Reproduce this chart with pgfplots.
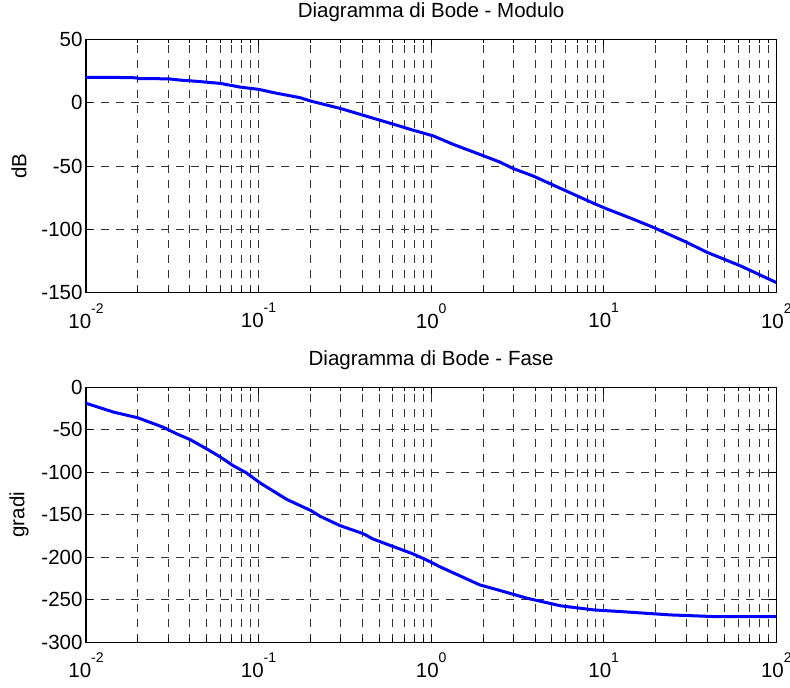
\documentclass[border=0pt]{standalone}
\usepackage{fontspec}
\setmainfont{Liberation Sans}
\usepackage{pgfplots}
\pgfplotsset{compat=1.18}

\newcommand{\dec}[1]{10\raisebox{15pt}{\fontsize{14}{14}\selectfont #1}}

\begin{document}
\begin{tikzpicture}

% Modulo
\begin{axis}[
    xmode=log,
    scale only axis,
    width=690.3pt,
    height=253.4pt,
    at={(86pt,395.3pt)}, anchor=south west,
    xmin=0.01, xmax=100,
    ymin=-150, ymax=50,
    xtick={0.01,0.1,1,10,100},
    xticklabels={\dec{-2},\dec{-1},\dec{0},\dec{1},\dec{2}},
    ytick={-150,-100,-50,0,50},
    yticklabels={-150,-100,-50,0,50},
    xticklabel style={yshift=-7pt},
    font=\fontsize{20.5}{24}\selectfont,
    tick label style={font=\fontsize{20.5}{24}\selectfont},
    grid=both,
    major grid style={dash pattern=on 8pt off 7pt, black!80, line width=0.9pt},
    minor grid style={dash pattern=on 8pt off 7pt, black!80, line width=0.9pt},
    tick align=inside,
    major tick length=7pt,
    minor tick length=4pt,
    tick style={black, line width=0.9pt},
    axis line style={line width=1.3pt},
    title style={at={(0.5,1)}, anchor=base, yshift=15.3pt},
    ylabel style={at={(axis description cs:-0.0971,0.5)}, anchor=center},
    title={Diagramma di Bode - Modulo},
    ylabel={dB},
]
\addplot[blue, line width=3pt] coordinates {
  (0.01,20) (0.015,19.9) (0.0197,19.6) (0.02,19.0) (0.03,18.8) (0.035,17.8)
  (0.044,16.8) (0.06,15.2) (0.078,12.3) (0.1,10.5) (0.122,7.9) (0.174,3.9)
  (0.2,1.3) (0.3,-4.7) (0.405,-10) (0.607,-17.1) (0.78,-21.6) (1.03,-26.3)
  (1.34,-32.9) (1.91,-40.8) (2.5,-46.9) (3.0,-52.1) (3.9,-57.9) (5.9,-69)
  (8.75,-79.5) (10.3,-83.6) (14.9,-92.1) (19.5,-98.6) (30,-110) (39.3,-117.9)
  (62.2,-128.9) (100,-142)
};
\end{axis}

% Fase
\begin{axis}[
    xmode=log,
    scale only axis,
    width=690.3pt,
    height=255pt,
    at={(86pt,45.7pt)}, anchor=south west,
    xmin=0.01, xmax=100,
    ymin=-300, ymax=0,
    xtick={0.01,0.1,1,10,100},
    xticklabels={\dec{-2},\dec{-1},\dec{0},\dec{1},\dec{2}},
    ytick={-300,-250,-200,-150,-100,-50,0},
    yticklabels={-300,-250,-200,-150,-100,-50,0},
    xticklabel style={yshift=-7pt},
    font=\fontsize{20.5}{24}\selectfont,
    tick label style={font=\fontsize{20.5}{24}\selectfont},
    grid=both,
    major grid style={dash pattern=on 8pt off 7pt, black!80, line width=0.9pt},
    minor grid style={dash pattern=on 8pt off 7pt, black!80, line width=0.9pt},
    tick align=inside,
    major tick length=7pt,
    minor tick length=4pt,
    tick style={black, line width=0.9pt},
    axis line style={line width=1.3pt},
    title style={at={(0.5,1)}, anchor=base, yshift=15.3pt},
    ylabel style={at={(axis description cs:-0.0971,0.5)}, anchor=center},
    title={Diagramma di Bode - Fase},
    ylabel={gradi},
]
\addplot[blue, line width=3pt] coordinates {
  (0.01,-18.8) (0.0145,-29.3) (0.02,-35.9) (0.028,-47) (0.0335,-54.7)
  (0.04,-61.4) (0.05,-72.4) (0.06,-82) (0.071,-92) (0.085,-100.7)
  (0.102,-112.5) (0.146,-132) (0.2,-144.8) (0.228,-151.9) (0.297,-162.8)
  (0.405,-172.3) (0.46,-178.5) (0.78,-195.8) (0.935,-202.9) (1.12,-211)
  (1.91,-232.4) (2.5,-239) (3.57,-248) (5.6,-257) (8.75,-261.9)
  (12.4,-263.8) (24.4,-267.8) (43.4,-269.7) (100,-269.7)
};
\end{axis}

\pgfresetboundingbox
\path (0pt,0pt) rectangle (790pt,688pt);
\end{tikzpicture}
\end{document}
